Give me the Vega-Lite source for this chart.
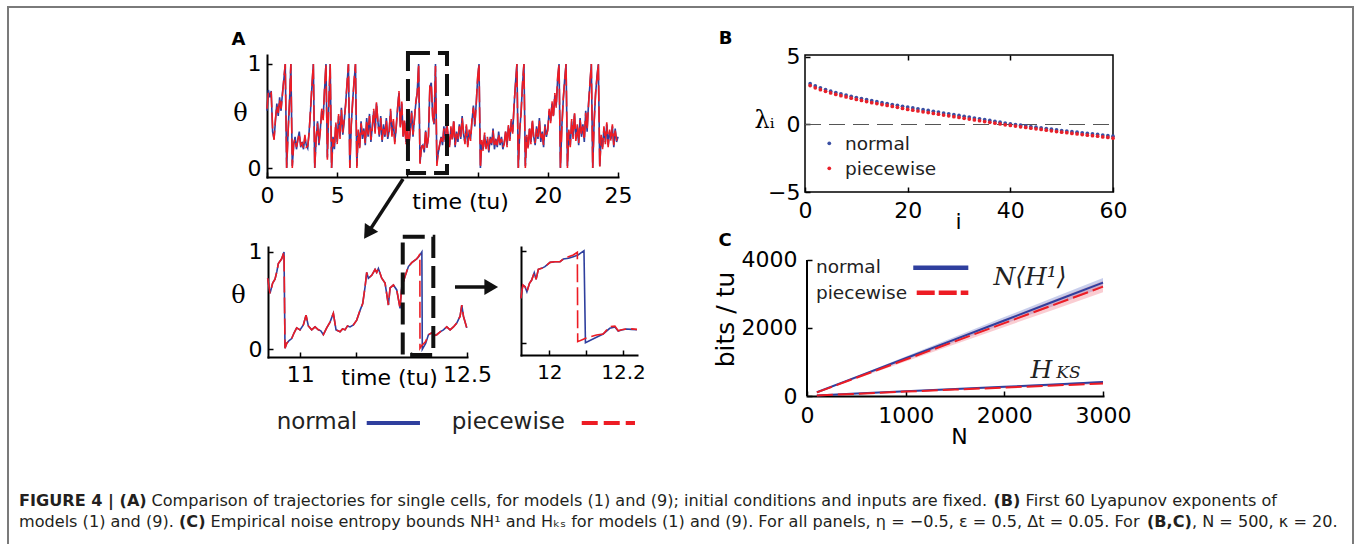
{
"$schema": "https://vega.github.io/schema/vega-lite/v6.json",
"background": "white",
"padding": {"left": 7, "top": 6, "right": 0, "bottom": 0},
"spacing": 0,
"bounds": "flush",
"datasets": {
"traj": [
{"t":0,"n":0.55,"p":0.57},{"t":0.1,"n":0.75,"p":0.73},{"t":0.2,"n":0.68,"p":0.70},{"t":0.3,"n":0.74,"p":0.72},{"t":0.4,"n":0.35,"p":0.38},{"t":0.5,"n":0.28,"p":0.27},{"t":0.6,"n":0.45,"p":0.47},{"t":0.7,"n":0.62,"p":0.60},{"t":0.8,"n":0.50,"p":0.53},{"t":0.9,"n":0.68,"p":0.66},
{"t":1.0,"n":0.55,"p":0.57},{"t":1.1,"n":0.72,"p":0.70},{"t":1.2,"n":0.85,"p":0.86},{"t":1.3,"n":1,"p":1},{"t":1.4,"n":0,"p":0},{"t":1.5,"n":0.35,"p":0.33},{"t":1.6,"n":0.62,"p":0.64},{"t":1.7,"n":1,"p":1},{"t":1.8,"n":0.02,"p":0},{"t":1.9,"n":0.22,"p":0.24},
{"t":2.0,"n":0.30,"p":0.28},{"t":2.1,"n":0.18,"p":0.20},{"t":2.2,"n":0.28,"p":0.27},{"t":2.3,"n":0.35,"p":0.33},{"t":2.4,"n":0.20,"p":0.22},{"t":2.5,"n":0.25,"p":0.24},{"t":2.6,"n":0.18,"p":0.19},{"t":2.7,"n":0.30,"p":0.32},{"t":2.8,"n":0.22,"p":0.20},{"t":2.9,"n":0.19,"p":0.21},
{"t":3.0,"n":0.35,"p":0.33},{"t":3.1,"n":0.55,"p":0.57},{"t":3.2,"n":0.78,"p":0.80},{"t":3.3,"n":1,"p":1},{"t":3.4,"n":0,"p":0},{"t":3.5,"n":0.28,"p":0.30},{"t":3.6,"n":0.45,"p":0.43},{"t":3.7,"n":0.22,"p":0.24},{"t":3.8,"n":0.38,"p":0.36},{"t":3.9,"n":0.55,"p":0.57},
{"t":4.0,"n":0.48,"p":0.46},{"t":4.1,"n":0.75,"p":0.77},{"t":4.2,"n":1,"p":1},{"t":4.3,"n":0.10,"p":0.08},{"t":4.4,"n":0.60,"p":0.62},{"t":4.5,"n":1,"p":1},{"t":4.6,"n":0,"p":0},{"t":4.7,"n":0.30,"p":0.28},{"t":4.8,"n":0.18,"p":0.20},{"t":4.9,"n":0.42,"p":0.44},
{"t":5.0,"n":0.25,"p":0.23},{"t":5.1,"n":0.50,"p":0.52},{"t":5.2,"n":0.30,"p":0.28},{"t":5.3,"n":0.58,"p":0.56},{"t":5.4,"n":0.32,"p":0.34},{"t":5.5,"n":0.45,"p":0.47},{"t":5.6,"n":0.62,"p":0.60},{"t":5.7,"n":0.80,"p":0.82},{"t":5.8,"n":1,"p":1},{"t":5.9,"n":0,"p":0},
{"t":6.0,"n":0.40,"p":0.42},{"t":6.1,"n":0.65,"p":0.63},{"t":6.2,"n":0.82,"p":0.84},{"t":6.3,"n":1,"p":1},{"t":6.4,"n":0.02,"p":0},{"t":6.5,"n":0.35,"p":0.37},{"t":6.6,"n":0.20,"p":0.19},{"t":6.7,"n":0.45,"p":0.43},{"t":6.8,"n":0.28,"p":0.30},{"t":6.9,"n":0.38,"p":0.36},
{"t":7.0,"n":0.22,"p":0.24},{"t":7.1,"n":0.48,"p":0.46},{"t":7.2,"n":0.30,"p":0.32},{"t":7.3,"n":0.52,"p":0.50},{"t":7.4,"n":0.25,"p":0.27},{"t":7.5,"n":0.40,"p":0.38},{"t":7.6,"n":0.55,"p":0.57},{"t":7.7,"n":0.35,"p":0.33},{"t":7.8,"n":0.62,"p":0.64},{"t":7.9,"n":0.45,"p":0.43},
{"t":8.0,"n":0.30,"p":0.32},{"t":8.1,"n":0.50,"p":0.48},{"t":8.2,"n":0.25,"p":0.27},{"t":8.3,"n":0.42,"p":0.40},{"t":8.4,"n":0.30,"p":0.32},{"t":8.5,"n":0.48,"p":0.46},{"t":8.6,"n":0.28,"p":0.30},{"t":8.7,"n":0.36,"p":0.34},{"t":8.8,"n":0.55,"p":0.57},{"t":8.9,"n":0.32,"p":0.30},
{"t":9.0,"n":0.45,"p":0.47},{"t":9.1,"n":0.25,"p":0.23},{"t":9.2,"n":0.38,"p":0.40},{"t":9.3,"n":0.58,"p":0.56},{"t":9.4,"n":0.72,"p":0.74},{"t":9.5,"n":0.40,"p":0.38},{"t":9.6,"n":0.62,"p":0.64},{"t":9.7,"n":0.30,"p":0.28},{"t":9.8,"n":0.45,"p":0.47},{"t":9.9,"n":0.25,"p":0.23},
{"t":10.0,"n":0.38,"p":0.40},{"t":10.1,"n":0.22,"p":0.20},{"t":10.2,"n":0.35,"p":0.37},{"t":10.3,"n":0.55,"p":0.53},{"t":10.4,"n":0.30,"p":0.32},{"t":10.5,"n":0.48,"p":0.46},{"t":10.6,"n":0.62,"p":0.64},{"t":10.7,"n":0.73,"p":0.72},{"t":10.8,"n":1,"p":1},{"t":10.9,"n":0.05,"p":0.04},
{"t":11.0,"n":0.20,"p":0.21},{"t":11.1,"n":0.22,"p":0.21},{"t":11.2,"n":0.15,"p":0.16},{"t":11.3,"n":0.36,"p":0.37},{"t":11.4,"n":0.20,"p":0.19},{"t":11.5,"n":0.30,"p":0.31},{"t":11.6,"n":0.78,"p":0.79},{"t":11.7,"n":0.82,"p":0.81},{"t":11.8,"n":0.50,"p":0.49},{"t":11.9,"n":0.42,"p":0.43},
{"t":12.0,"n":1,"p":0.98},{"t":12.1,"n":0.05,"p":0.02},{"t":12.2,"n":0.15,"p":0.16},{"t":12.3,"n":0.22,"p":0.23},{"t":12.4,"n":0.30,"p":0.29},{"t":12.5,"n":0.22,"p":0.23},{"t":12.6,"n":0.40,"p":0.38},{"t":12.7,"n":0.25,"p":0.27},{"t":12.8,"n":0.45,"p":0.43},{"t":12.9,"n":0.30,"p":0.32},
{"t":13.0,"n":0.22,"p":0.20},{"t":13.1,"n":0.38,"p":0.40},{"t":13.2,"n":0.28,"p":0.26},{"t":13.3,"n":0.45,"p":0.47},{"t":13.4,"n":0.20,"p":0.22},{"t":13.5,"n":0.35,"p":0.33},{"t":13.6,"n":0.25,"p":0.27},{"t":13.7,"n":0.42,"p":0.40},{"t":13.8,"n":0.28,"p":0.30},{"t":13.9,"n":0.50,"p":0.48},
{"t":14.0,"n":0.32,"p":0.34},{"t":14.1,"n":0.25,"p":0.23},{"t":14.2,"n":0.40,"p":0.42},{"t":14.3,"n":0.22,"p":0.20},{"t":14.4,"n":0.35,"p":0.37},{"t":14.5,"n":0.28,"p":0.26},{"t":14.6,"n":0.45,"p":0.47},{"t":14.7,"n":0.60,"p":0.58},{"t":14.8,"n":0.40,"p":0.42},{"t":14.9,"n":0.62,"p":0.60},
{"t":15.0,"n":0.85,"p":0.87},{"t":15.1,"n":1,"p":1},{"t":15.2,"n":0,"p":0},{"t":15.3,"n":0.25,"p":0.27},{"t":15.4,"n":0.18,"p":0.16},{"t":15.5,"n":0.32,"p":0.34},{"t":15.6,"n":0.20,"p":0.18},{"t":15.7,"n":0.28,"p":0.30},{"t":15.8,"n":0.15,"p":0.17},{"t":15.9,"n":0.30,"p":0.28},
{"t":16.0,"n":0.22,"p":0.24},{"t":16.1,"n":0.38,"p":0.36},{"t":16.2,"n":0.18,"p":0.20},{"t":16.3,"n":0.28,"p":0.26},{"t":16.4,"n":0.20,"p":0.22},{"t":16.5,"n":0.35,"p":0.33},{"t":16.6,"n":0.22,"p":0.24},{"t":16.7,"n":0.30,"p":0.28},{"t":16.8,"n":0.18,"p":0.20},{"t":16.9,"n":0.25,"p":0.23},
{"t":17.0,"n":0.35,"p":0.37},{"t":17.1,"n":0.22,"p":0.20},{"t":17.2,"n":0.40,"p":0.42},{"t":17.3,"n":0.28,"p":0.26},{"t":17.4,"n":0.45,"p":0.47},{"t":17.5,"n":0.35,"p":0.33},{"t":17.6,"n":0.60,"p":0.62},{"t":17.7,"n":0.82,"p":0.80},{"t":17.8,"n":1,"p":1},{"t":17.9,"n":0,"p":0},
{"t":18.0,"n":0.35,"p":0.37},{"t":18.1,"n":0.55,"p":0.53},{"t":18.2,"n":0.80,"p":0.82},{"t":18.3,"n":1,"p":1},{"t":18.4,"n":0.02,"p":0},{"t":18.5,"n":0.30,"p":0.32},{"t":18.6,"n":0.20,"p":0.18},{"t":18.7,"n":0.38,"p":0.40},{"t":18.8,"n":0.25,"p":0.23},{"t":18.9,"n":0.45,"p":0.47},
{"t":19.0,"n":0.30,"p":0.28},{"t":19.1,"n":0.22,"p":0.24},{"t":19.2,"n":0.40,"p":0.38},{"t":19.3,"n":0.28,"p":0.30},{"t":19.4,"n":0.48,"p":0.46},{"t":19.5,"n":0.25,"p":0.27},{"t":19.6,"n":0.35,"p":0.33},{"t":19.7,"n":0.20,"p":0.22},{"t":19.8,"n":0.42,"p":0.40},{"t":19.9,"n":0.30,"p":0.32},
{"t":20.0,"n":0.38,"p":0.36},{"t":20.1,"n":0.55,"p":0.57},{"t":20.2,"n":0.45,"p":0.43},{"t":20.3,"n":0.62,"p":0.64},{"t":20.4,"n":0.50,"p":0.48},{"t":20.5,"n":0.70,"p":0.72},{"t":20.6,"n":0.60,"p":0.58},{"t":20.7,"n":0.85,"p":0.87},{"t":20.8,"n":1,"p":1},{"t":20.9,"n":0,"p":0},
{"t":21.0,"n":0.40,"p":0.38},{"t":21.1,"n":0.65,"p":0.67},{"t":21.2,"n":0.85,"p":0.83},{"t":21.3,"n":1,"p":1},{"t":21.4,"n":0.02,"p":0},{"t":21.5,"n":0.35,"p":0.37},{"t":21.6,"n":0.22,"p":0.20},{"t":21.7,"n":0.45,"p":0.47},{"t":21.8,"n":0.30,"p":0.28},{"t":21.9,"n":0.52,"p":0.54},
{"t":22.0,"n":0.28,"p":0.26},{"t":22.1,"n":0.40,"p":0.42},{"t":22.2,"n":0.22,"p":0.24},{"t":22.3,"n":0.48,"p":0.46},{"t":22.4,"n":0.30,"p":0.32},{"t":22.5,"n":0.42,"p":0.40},{"t":22.6,"n":0.25,"p":0.27},{"t":22.7,"n":0.55,"p":0.53},{"t":22.8,"n":0.35,"p":0.37},{"t":22.9,"n":0.62,"p":0.60},
{"t":23.0,"n":0.80,"p":0.82},{"t":23.1,"n":1,"p":1},{"t":23.2,"n":0,"p":0},{"t":23.3,"n":0.45,"p":0.43},{"t":23.4,"n":0.70,"p":0.72},{"t":23.5,"n":0.88,"p":0.86},{"t":23.6,"n":1,"p":1},{"t":23.7,"n":0.02,"p":0},{"t":23.8,"n":0.30,"p":0.32},{"t":23.9,"n":0.20,"p":0.18},
{"t":24.0,"n":0.38,"p":0.40},{"t":24.1,"n":0.25,"p":0.23},{"t":24.2,"n":0.42,"p":0.44},{"t":24.3,"n":0.22,"p":0.20},{"t":24.4,"n":0.35,"p":0.37},{"t":24.5,"n":0.28,"p":0.26},{"t":24.6,"n":0.40,"p":0.42},{"t":24.7,"n":0.20,"p":0.22},{"t":24.8,"n":0.38,"p":0.36},{"t":24.9,"n":0.25,"p":0.27},
{"t":25.0,"n":0.30,"p":0.28}
],
"zl": [
{"t":10.707,"n":0.73,"p":0.73},{"t":10.728,"n":0.575,"p":0.575},{"t":10.752,"n":0.68,"p":0.68},{"t":10.773,"n":0.72,"p":0.72},{"t":10.79,"n":0.8,"p":0.8},{"t":10.803,"n":0.88,"p":0.88},{"t":10.833,"n":0.93,"p":0.93},{"t":10.854,"n":1,"p":1},{"t":10.863,"n":0.01,"p":0.01},{"t":10.878,"n":0.06,"p":0.06},
{"t":10.9,"n":0.09,"p":0.09},{"t":10.923,"n":0.11,"p":0.11},{"t":10.945,"n":0.17,"p":0.17},{"t":10.968,"n":0.22,"p":0.22},{"t":10.998,"n":0.2,"p":0.2},{"t":11.028,"n":0.25,"p":0.25},{"t":11.052,"n":0.35,"p":0.35},{"t":11.073,"n":0.24,"p":0.24},{"t":11.103,"n":0.2,"p":0.2},{"t":11.133,"n":0.23,"p":0.23},
{"t":11.163,"n":0.2,"p":0.2},{"t":11.185,"n":0.19,"p":0.19},{"t":11.208,"n":0.15,"p":0.15},{"t":11.238,"n":0.22,"p":0.22},{"t":11.268,"n":0.28,"p":0.28},{"t":11.298,"n":0.37,"p":0.37},{"t":11.322,"n":0.2,"p":0.2},{"t":11.358,"n":0.18,"p":0.18},{"t":11.38,"n":0.21,"p":0.21},{"t":11.403,"n":0.2,"p":0.2},
{"t":11.425,"n":0.24,"p":0.24},{"t":11.448,"n":0.23,"p":0.23},{"t":11.478,"n":0.25,"p":0.25},{"t":11.508,"n":0.3,"p":0.3},{"t":11.538,"n":0.4,"p":0.4},{"t":11.562,"n":0.47,"p":0.47},{"t":11.583,"n":0.64,"p":0.64},{"t":11.598,"n":0.79,"p":0.79},{"t":11.613,"n":0.73,"p":0.73},{"t":11.643,"n":0.76,"p":0.76},
{"t":11.673,"n":0.82,"p":0.82},{"t":11.688,"n":0.79,"p":0.79},{"t":11.703,"n":0.83,"p":0.83},{"t":11.733,"n":0.73,"p":0.73},{"t":11.763,"n":0.68,"p":0.68},{"t":11.793,"n":0.455,"p":0.455},{"t":11.808,"n":0.63,"p":0.63},{"t":11.838,"n":0.66,"p":0.66},{"t":11.868,"n":0.61,"p":0.61},{"t":11.898,"n":0.42,"p":0.42},
{"t":11.913,"n":0.64,"p":0.64},{"t":11.943,"n":0.75,"p":0.75},{"t":11.973,"n":0.85,"p":0.85},{"t":12.003,"n":0.89,"p":0.89},{"t":12.048,"n":0.93,"p":0.93},{"t":12.065,"n":0.95,"p":0.955},{"t":12.076,"n":0.97,"p":0.98},{"t":12.077,"n":0.97,"p":0.01},{"t":12.094,"n":1,"p":0.04},{"t":12.098,"n":0,"p":0.045},
{"t":12.128,"n":0.06,"p":0.08},{"t":12.153,"n":0.15,"p":0.15},{"t":12.183,"n":0.17,"p":0.17},{"t":12.2,"n":0.14,"p":0.14},{"t":12.228,"n":0.15,"p":0.15},{"t":12.258,"n":0.18,"p":0.18},{"t":12.288,"n":0.2,"p":0.2},{"t":12.318,"n":0.23,"p":0.23},{"t":12.348,"n":0.2,"p":0.2},{"t":12.378,"n":0.23,"p":0.23},
{"t":12.408,"n":0.27,"p":0.27},{"t":12.438,"n":0.34,"p":0.34},{"t":12.453,"n":0.455,"p":0.455},{"t":12.468,"n":0.34,"p":0.34},{"t":12.498,"n":0.22,"p":0.22}
],
"zr": [
{"t":11.9226,"n":0.482,"p":0.482},{"t":11.928,"n":0.627,"p":0.627},{"t":11.934,"n":0.609,"p":0.609},{"t":11.939,"n":0.554,"p":0.554},{"t":11.946,"n":0.645,"p":0.645},{"t":11.952,"n":0.681,"p":0.681},{"t":11.959,"n":0.761,"p":0.761},{"t":11.964,"n":0.688,"p":0.688},{"t":11.97,"n":0.797,"p":0.797},{"t":11.979,"n":0.808,"p":0.808},
{"t":11.988,"n":0.826,"p":0.826},{"t":12.002,"n":0.873,"p":0.873},{"t":12.015,"n":0.88,"p":0.88},{"t":12.029,"n":0.88,"p":0.88},{"t":12.038,"n":0.909,"p":0.909},{"t":12.052,"n":0.917,"p":0.935},{"t":12.065,"n":0.935,"p":0.953},{"t":12.076,"n":0.95,"p":0.982},{"t":12.077,"n":0.951,"p":0.011},{"t":12.094,"n":1,"p":0.04},
{"t":12.098,"n":0,"p":0.047},{"t":12.128,"n":0.058,"p":0.083},{"t":12.146,"n":0.094,"p":0.094},{"t":12.164,"n":0.156,"p":0.174},{"t":12.178,"n":0.17,"p":0.18},{"t":12.187,"n":0.127,"p":0.13},{"t":12.196,"n":0.138,"p":0.14},{"t":12.209,"n":0.149,"p":0.149},{"t":12.223,"n":0.145,"p":0.15},{"t":12.238,"n":0.14,"p":0.145}
],
"lyap": [
{"i":1,"n":3.02,"p":2.88},{"i":2,"n":2.86,"p":2.72},{"i":3,"n":2.72,"p":2.58},{"i":4,"n":2.59,"p":2.46},{"i":5,"n":2.47,"p":2.34},{"i":6,"n":2.37,"p":2.23},{"i":7,"n":2.27,"p":2.13},{"i":8,"n":2.18,"p":2.04},{"i":9,"n":2.09,"p":1.95},{"i":10,"n":2.0,"p":1.86},
{"i":11,"n":1.92,"p":1.78},{"i":12,"n":1.84,"p":1.70},{"i":13,"n":1.76,"p":1.62},{"i":14,"n":1.69,"p":1.55},{"i":15,"n":1.62,"p":1.48},{"i":16,"n":1.55,"p":1.41},{"i":17,"n":1.48,"p":1.34},{"i":18,"n":1.42,"p":1.27},{"i":19,"n":1.35,"p":1.19},{"i":20,"n":1.29,"p":1.12},
{"i":21,"n":1.23,"p":1.06},{"i":22,"n":1.16,"p":1.0},{"i":23,"n":1.10,"p":0.94},{"i":24,"n":1.04,"p":0.88},{"i":25,"n":0.98,"p":0.82},{"i":26,"n":0.92,"p":0.76},{"i":27,"n":0.85,"p":0.70},{"i":28,"n":0.79,"p":0.64},{"i":29,"n":0.73,"p":0.58},{"i":30,"n":0.67,"p":0.52},
{"i":31,"n":0.61,"p":0.46},{"i":32,"n":0.55,"p":0.40},{"i":33,"n":0.48,"p":0.34},{"i":34,"n":0.42,"p":0.28},{"i":35,"n":0.36,"p":0.22},{"i":36,"n":0.30,"p":0.16},{"i":37,"n":0.24,"p":0.10},{"i":38,"n":0.17,"p":0.04},{"i":39,"n":0.11,"p":-0.02},{"i":40,"n":0.05,"p":-0.07},
{"i":41,"n":0.0,"p":-0.12},{"i":42,"n":-0.05,"p":-0.17},{"i":43,"n":-0.10,"p":-0.22},{"i":44,"n":-0.15,"p":-0.27},{"i":45,"n":-0.20,"p":-0.32},{"i":46,"n":-0.25,"p":-0.37},{"i":47,"n":-0.30,"p":-0.42},{"i":48,"n":-0.35,"p":-0.47},{"i":49,"n":-0.40,"p":-0.52},{"i":50,"n":-0.45,"p":-0.57},
{"i":51,"n":-0.49,"p":-0.61},{"i":52,"n":-0.53,"p":-0.66},{"i":53,"n":-0.57,"p":-0.70},{"i":54,"n":-0.62,"p":-0.75},{"i":55,"n":-0.66,"p":-0.79},{"i":56,"n":-0.70,"p":-0.83},{"i":57,"n":-0.74,"p":-0.87},{"i":58,"n":-0.78,"p":-0.92},{"i":59,"n":-0.83,"p":-0.96},{"i":60,"n":-0.87,"p":-1.01}
],
"ent": [
{"N":100,"q":"NH1","s":"n","v":111,"lo":104,"hi":118},{"N":500,"q":"NH1","s":"n","v":556,"lo":530,"hi":582},{"N":1000,"q":"NH1","s":"n","v":1111,"lo":1060,"hi":1160},{"N":1500,"q":"NH1","s":"n","v":1667,"lo":1590,"hi":1740},{"N":2000,"q":"NH1","s":"n","v":2222,"lo":2120,"hi":2320},{"N":2500,"q":"NH1","s":"n","v":2778,"lo":2650,"hi":2900},{"N":3000,"q":"NH1","s":"n","v":3333,"lo":3190,"hi":3470},
{"N":100,"q":"NH1","s":"p","v":107,"lo":100,"hi":114},{"N":500,"q":"NH1","s":"p","v":536,"lo":505,"hi":565},{"N":1000,"q":"NH1","s":"p","v":1072,"lo":1015,"hi":1130},{"N":1500,"q":"NH1","s":"p","v":1608,"lo":1520,"hi":1695},{"N":2000,"q":"NH1","s":"p","v":2144,"lo":2030,"hi":2260},{"N":2500,"q":"NH1","s":"p","v":2680,"lo":2540,"hi":2820},{"N":3000,"q":"NH1","s":"p","v":3215,"lo":3050,"hi":3380},
{"N":100,"q":"HKS","s":"n","v":15,"lo":10,"hi":20},{"N":500,"q":"HKS","s":"n","v":70,"lo":62,"hi":78},{"N":1000,"q":"HKS","s":"n","v":140,"lo":128,"hi":152},{"N":1500,"q":"HKS","s":"n","v":205,"lo":190,"hi":220},{"N":2000,"q":"HKS","s":"n","v":270,"lo":252,"hi":288},{"N":2500,"q":"HKS","s":"n","v":340,"lo":318,"hi":362},{"N":3000,"q":"HKS","s":"n","v":413,"lo":388,"hi":438},
{"N":100,"q":"HKS","s":"p","v":14,"lo":9,"hi":19},{"N":500,"q":"HKS","s":"p","v":65,"lo":57,"hi":73},{"N":1000,"q":"HKS","s":"p","v":130,"lo":118,"hi":142},{"N":1500,"q":"HKS","s":"p","v":188,"lo":173,"hi":203},{"N":2000,"q":"HKS","s":"p","v":248,"lo":230,"hi":266},{"N":2500,"q":"HKS","s":"p","v":308,"lo":286,"hi":330},{"N":3000,"q":"HKS","s":"p","v":368,"lo":343,"hi":393}
],
"cap": [
{"line":1,"seg":"1a","txt":"FIGURE 4 | (A)"},
{"line":1,"seg":"1b","txt":"Comparison of trajectories for single cells, for models (1) and (9); initial conditions and inputs are fixed."},
{"line":1,"seg":"1c","txt":"(B)"},
{"line":1,"seg":"1d","txt":"First 60 Lyapunov exponents of"},
{"line":2,"seg":"2a","txt":"models (1) and (9)."},
{"line":2,"seg":"2b","txt":"(C)"},
{"line":2,"seg":"2c","txt":"Empirical noise entropy bounds NH¹ and Hₖₛ for models (1) and (9). For all panels, η = −0.5, ε = 0.5, Δt = 0.05. For"},
{"line":2,"seg":"2d","txt":"(B,C)"},
{"line":2,"seg":"2e","txt":", N = 500, κ = 20."}
]
},
"vconcat": [
{"spacing":0,"bounds":"flush","hconcat":[
{"width":0.01,"height":540,"view":{"stroke":"#7a7a7a","strokeWidth":2},"data":{"values":[]},"mark":"point","encoding":{}},
{"width":1344,"height":0.01,"view":{"stroke":"#7a7a7a","strokeWidth":2},"data":{"values":[]},"mark":"point","encoding":{}},
{"width":0.01,"height":540,"view":{"stroke":"#7a7a7a","strokeWidth":2},"data":{"values":[]},"mark":"point","encoding":{}}
]},
{"width":0.01,"height":48,"data":{"values":[]},"mark":"point","encoding":{}},
{"spacing":0,"bounds":"flush","hconcat":[
{"width":259,"height":0.01,"data":{"values":[]},"mark":"point","encoding":{}},
{
"width":351,"height":122,
"data":{"name":"traj"},
"layer":[
{"mark":{"type":"line","color":"#2f3f9e","strokeWidth":1.6},
 "encoding":{
  "x":{"field":"t","type":"quantitative","scale":{"domain":[0,25],"nice":false},
       "axis":{"values":[0,5,10,15,20,25],"format":"d","labelExpr":"datum.value == 10 || datum.value == 15 ? '' : datum.label","title":"time (tu)","titleX":193,"titleY":31,"titleAlign":"center","titleBaseline":"alphabetic","labelPadding":13}},
  "y":{"field":"n","type":"quantitative","scale":{"domain":[-0.0865,1.0865],"nice":false},
       "axis":{"values":[0,1],"format":"d","title":"θ","titleFont":"DejaVu Serif","titleFontSize":24,"titleAngle":0,"titleX":-27,"titleY":58,"titleAlign":"center","titleBaseline":"middle","labelPadding":11}}}},
{"mark":{"type":"line","color":"#ed1c24","strokeWidth":1.6,"strokeDash":[16,5]},
 "encoding":{"x":{"field":"t","type":"quantitative","scale":{"domain":[0,25],"nice":false}},"y":{"field":"p","type":"quantitative","scale":{"domain":[-0.0865,1.0865],"nice":false}}}},
{"data":{"values":[{}]},"mark":{"type":"rect","filled":false,"color":"#111","strokeWidth":4,"strokeDash":[22,8],"clip":false},
 "encoding":{"x":{"datum":10.04,"scale":{"domain":[0,25],"nice":false}},"x2":{"datum":12.82},"y":{"datum":1.106,"scale":{"domain":[-0.0865,1.0865],"nice":false}},"y2":{"datum":-0.048}}},
{"data":{"values":[{}]},"mark":{"type":"rule","color":"#111","strokeWidth":3.5,"clip":false},
 "encoding":{"x":{"datum":9.69,"scale":{"domain":[0,25],"nice":false}},"x2":{"datum":7.18},"y":{"datum":-0.106,"scale":{"domain":[-0.0865,1.0865],"nice":false}},"y2":{"datum":-0.626}}},
{"data":{"values":[{}]},"mark":{"type":"point","shape":"triangle-up","size":250,"angle":212.8,"filled":true,"color":"#111","opacity":1,"clip":false},
 "encoding":{"x":{"datum":7.18,"scale":{"domain":[0,25],"nice":false}},"y":{"datum":-0.626,"scale":{"domain":[-0.0865,1.0865],"nice":false}}}},
{"data":{"values":[{}]},"mark":{"type":"text","text":"A","fontWeight":"bold","fontSize":18,"align":"center","baseline":"alphabetic","clip":false},
 "encoding":{"x":{"datum":-2.04,"scale":{"domain":[0,25],"nice":false}},"y":{"datum":1.1827,"scale":{"domain":[-0.0865,1.0865],"nice":false}}}}
]
},
{"width":187,"height":0.01,"data":{"values":[]},"mark":"point","encoding":{}},
{
"width":308,"height":137,
"view":{"stroke":"black","strokeWidth":1.5},
"resolve":{"axis":{"x":"independent","y":"independent"}},
"layer":[
{"data":{"values":[{}]},"mark":{"type":"rule","color":"#555","strokeWidth":1.2,"strokeDash":[16,8]},
 "encoding":{"x":{"datum":0,"scale":{"domain":[0,60],"nice":false},"axis":{"orient":"top","values":[20,40],"labels":false,"title":null,"domain":false}},"x2":{"datum":60},"y":{"datum":0,"scale":{"domain":[-5,5.148],"nice":false},"axis":null}}},
{"data":{"name":"lyap"},"transform":[{"fold":["n","p"],"as":["s","v"]}],
 "mark":{"type":"point","filled":true,"size":14,"opacity":1},
 "encoding":{
  "x":{"field":"i","type":"quantitative","scale":{"domain":[0,60],"nice":false},"axis":{"values":[0,20,40,60],"format":"d","title":"i","titleX":153,"titleY":36,"titleAlign":"center","titleBaseline":"alphabetic","domain":false,"labelPadding":13}},
  "y":{"field":"v","type":"quantitative","scale":{"domain":[-5,5.148],"nice":false},"axis":{"values":[-5,0,5],"format":"d","title":"λᵢ","titleFont":"DejaVu Serif","titleFontSize":24,"titleAngle":0,"titleX":-41,"titleY":65,"titleAlign":"center","titleBaseline":"middle","domain":false,"labelPadding":10}},
  "color":{"field":"s","type":"nominal","scale":{"domain":["n","p"],"range":["#3a4fa3","#e8202a"]},"legend":null}}},
{"data":{"values":[{}]},"mark":{"type":"point","filled":true,"size":14,"opacity":1,"color":"#3a4fa3"},
 "encoding":{"x":{"datum":4.73,"scale":{"domain":[0,60],"nice":false},"axis":null},"y":{"datum":-1.393,"scale":{"domain":[-5,5.148],"nice":false},"axis":null}}},
{"data":{"values":[{}]},"mark":{"type":"point","filled":true,"size":14,"opacity":1,"color":"#e8202a"},
 "encoding":{"x":{"datum":4.73,"scale":{"domain":[0,60],"nice":false},"axis":null},"y":{"datum":-3.245,"scale":{"domain":[-5,5.148],"nice":false},"axis":null}}},
{"data":{"values":[{}]},"mark":{"type":"text","text":"normal","fontSize":18.5,"align":"left","baseline":"middle","color":"#222"},
 "encoding":{"x":{"datum":7.8,"scale":{"domain":[0,60],"nice":false},"axis":null},"y":{"datum":-1.45,"scale":{"domain":[-5,5.148],"nice":false},"axis":null}}},
{"data":{"values":[{}]},"mark":{"type":"text","text":"piecewise","fontSize":18.5,"align":"left","baseline":"middle","color":"#222"},
 "encoding":{"x":{"datum":7.8,"scale":{"domain":[0,60],"nice":false},"axis":null},"y":{"datum":-3.3,"scale":{"domain":[-5,5.148],"nice":false},"axis":null}}},
{"data":{"values":[{}]},"mark":{"type":"text","text":"B","fontWeight":"bold","fontSize":18,"align":"center","baseline":"alphabetic","clip":false},
 "encoding":{"x":{"datum":-15.49,"scale":{"domain":[0,60],"nice":false},"axis":null},"y":{"datum":5.963,"scale":{"domain":[-5,5.148],"nice":false},"axis":null}}}
]
}
]},
{"width":0.01,"height":192,"data":{"values":[]},"mark":"point","encoding":{}},
{"spacing":0,"bounds":"flush","hconcat":[
{"width":260,"height":0.01,"data":{"values":[]},"mark":"point","encoding":{}},
{
"width":199,"height":110,
"data":{"name":"zl"},
"layer":[
{"mark":{"type":"line","color":"#2f3f9e","strokeWidth":1.6},
 "encoding":{
  "x":{"field":"t","type":"quantitative","scale":{"domain":[10.71,12.5],"nice":false},
       "axis":{"values":[11,11.5,12,12.5],"format":"~g","labelExpr":"datum.value == 11.5 || datum.value == 12 ? '' : datum.label","title":"time (tu)","titleX":121,"titleY":27,"titleAlign":"center","titleBaseline":"alphabetic","labelPadding":12}},
  "y":{"field":"n","type":"quantitative","scale":{"domain":[-0.079,1.051],"nice":false},
       "axis":{"values":[0,1],"format":"d","title":"θ","titleFont":"DejaVu Serif","titleFontSize":24,"titleAngle":0,"titleX":-30,"titleY":48,"titleAlign":"center","titleBaseline":"middle","labelPadding":11}}}},
{"mark":{"type":"line","color":"#ed1c24","strokeWidth":1.6,"strokeDash":[16,5]},
 "encoding":{"x":{"field":"t","type":"quantitative","scale":{"domain":[10.71,12.5],"nice":false}},"y":{"field":"p","type":"quantitative","scale":{"domain":[-0.079,1.051],"nice":false}}}},
{"data":{"values":[{}]},"mark":{"type":"rect","filled":false,"color":"#111","strokeWidth":4,"strokeDash":[22,8],"clip":false},
 "encoding":{"x":{"datum":11.922,"scale":{"domain":[10.71,12.5],"nice":false}},"x2":{"datum":12.197},"y":{"datum":1.157,"scale":{"domain":[-0.079,1.051],"nice":false}},"y2":{"datum":-0.058}}},
{"data":{"values":[{}]},"mark":{"type":"rule","color":"#111","strokeWidth":3.5,"clip":false},
 "encoding":{"x":{"datum":12.392,"scale":{"domain":[10.71,12.5],"nice":false}},"x2":{"datum":12.718},"y":{"datum":0.64,"scale":{"domain":[-0.079,1.051],"nice":false}},"y2":{"datum":0.64}}},
{"data":{"values":[{}]},"mark":{"type":"point","shape":"triangle-up","size":250,"angle":90,"filled":true,"color":"#111","opacity":1,"clip":false},
 "encoding":{"x":{"datum":12.718,"scale":{"domain":[10.71,12.5],"nice":false}},"y":{"datum":0.64,"scale":{"domain":[-0.079,1.051],"nice":false}}}},
{"data":{"values":[{}]},"mark":{"type":"text","text":"normal","fontSize":23,"align":"left","baseline":"middle","color":"#222","clip":false},
 "encoding":{"x":{"datum":10.788,"scale":{"domain":[10.71,12.5],"nice":false}},"y":{"datum":-0.744,"scale":{"domain":[-0.079,1.051],"nice":false}}}},
{"data":{"values":[{}]},"mark":{"type":"rule","color":"#2f3f9e","strokeWidth":4,"clip":false},
 "encoding":{"x":{"datum":11.598,"scale":{"domain":[10.71,12.5],"nice":false}},"x2":{"datum":12.077},"y":{"datum":-0.757,"scale":{"domain":[-0.079,1.051],"nice":false}}}},
{"data":{"values":[{}]},"mark":{"type":"text","text":"piecewise","fontSize":23,"align":"left","baseline":"middle","color":"#222","clip":false},
 "encoding":{"x":{"datum":12.362,"scale":{"domain":[10.71,12.5],"nice":false}},"y":{"datum":-0.744,"scale":{"domain":[-0.079,1.051],"nice":false}}}},
{"data":{"values":[{}]},"mark":{"type":"rule","color":"#ed1c24","strokeWidth":4,"strokeDash":[16,6],"clip":false},
 "encoding":{"x":{"datum":13.532,"scale":{"domain":[10.71,12.5],"nice":false}},"x2":{"datum":14.011},"y":{"datum":-0.757,"scale":{"domain":[-0.079,1.051],"nice":false}}}}
]
},
{"width":54,"height":0.01,"data":{"values":[]},"mark":"point","encoding":{}},
{
"width":116,"height":108,
"data":{"name":"zr"},
"layer":[
{"mark":{"type":"line","color":"#2f3f9e","strokeWidth":1.6},
 "encoding":{
  "x":{"field":"t","type":"quantitative","scale":{"domain":[11.923,12.238],"nice":false},
       "axis":{"values":[12,12.1,12.2],"format":"~g","labelExpr":"datum.value == 12.1 ? '' : datum.label","title":null,"labelPadding":12,"labelFontSize":20}},
  "y":{"field":"n","type":"quantitative","scale":{"domain":[-0.134,1.04],"nice":false},
       "axis":{"values":[0,1],"labels":false,"title":null}}}},
{"mark":{"type":"line","color":"#ed1c24","strokeWidth":1.6,"strokeDash":[18,5]},
 "encoding":{"x":{"field":"t","type":"quantitative","scale":{"domain":[11.923,12.238],"nice":false}},"y":{"field":"p","type":"quantitative","scale":{"domain":[-0.134,1.04],"nice":false}}}}
]
},
{"width":170,"height":0.01,"data":{"values":[]},"mark":"point","encoding":{}},
{
"width":296,"height":149,
"data":{"name":"ent"},
"layer":[
{"transform":[{"filter":"datum.s == 'n'"}],"mark":{"type":"area","color":"#4a5cc0","opacity":0.3},
 "encoding":{
  "x":{"field":"N","type":"quantitative","scale":{"domain":[0,3000],"nice":false},
       "axis":{"values":[0,1000,2000,3000],"format":"d","title":"N","titleX":152,"titleY":47,"titleAlign":"center","titleBaseline":"alphabetic","labelPadding":14}},
  "y":{"field":"lo","type":"quantitative","scale":{"domain":[0,4382],"nice":false},
       "axis":{"values":[0,2000,4000],"format":"d","title":"bits / tu","titleFontSize":25,"titleAngle":-90,"titleX":-82,"titleY":72,"titleAlign":"center","titleBaseline":"middle","domain":false,"labelPadding":15}},
  "y2":{"field":"hi"},
  "detail":{"field":"q"}}},
{"transform":[{"filter":"datum.s == 'p'"}],"mark":{"type":"area","color":"#f05a6a","opacity":0.3},
 "encoding":{"x":{"field":"N","type":"quantitative","scale":{"domain":[0,3000],"nice":false}},"y":{"field":"lo","type":"quantitative","scale":{"domain":[0,4382],"nice":false}},"y2":{"field":"hi"},"detail":{"field":"q"}}},
{"transform":[{"filter":"datum.s == 'n'"}],"mark":{"type":"line","color":"#2f3f9e","strokeWidth":2},
 "encoding":{"x":{"field":"N","type":"quantitative","scale":{"domain":[0,3000],"nice":false}},"y":{"field":"v","type":"quantitative","scale":{"domain":[0,4382],"nice":false}},"detail":{"field":"q"}}},
{"transform":[{"filter":"datum.s == 'p'"}],"mark":{"type":"line","color":"#ed1c24","strokeWidth":2,"strokeDash":[16,5]},
 "encoding":{"x":{"field":"N","type":"quantitative","scale":{"domain":[0,3000],"nice":false}},"y":{"field":"v","type":"quantitative","scale":{"domain":[0,4382],"nice":false}},"detail":{"field":"q"}}},
{"data":{"values":[{}]},"mark":{"type":"rule","color":"black","strokeWidth":2},
 "encoding":{"x":{"datum":0,"scale":{"domain":[0,3000],"nice":false}},"y":{"datum":0,"scale":{"domain":[0,4382],"nice":false}},"y2":{"datum":4000}}},
{"data":{"values":[{}]},"mark":{"type":"text","text":"normal","fontSize":18.5,"align":"left","baseline":"middle","color":"#222"},
 "encoding":{"x":{"datum":91,"scale":{"domain":[0,3000],"nice":false}},"y":{"datum":3785,"scale":{"domain":[0,4382],"nice":false}}}},
{"data":{"values":[{}]},"mark":{"type":"rule","color":"#2f3f9e","strokeWidth":4.5},
 "encoding":{"x":{"datum":1077,"scale":{"domain":[0,3000],"nice":false}},"x2":{"datum":1635},"y":{"datum":3773,"scale":{"domain":[0,4382],"nice":false}}}},
{"data":{"values":[{}]},"mark":{"type":"text","text":"piecewise","fontSize":18.5,"align":"left","baseline":"middle","color":"#222"},
 "encoding":{"x":{"datum":91,"scale":{"domain":[0,3000],"nice":false}},"y":{"datum":3020,"scale":{"domain":[0,4382],"nice":false}}}},
{"data":{"values":[{}]},"mark":{"type":"rule","color":"#ed1c24","strokeWidth":4.5,"strokeDash":[18,4]},
 "encoding":{"x":{"datum":1112,"scale":{"domain":[0,3000],"nice":false}},"x2":{"datum":1635},"y":{"datum":3038,"scale":{"domain":[0,4382],"nice":false}}}},
{"data":{"values":[{}]},"mark":{"type":"text","text":"N⟨H¹⟩","font":"DejaVu Serif","fontStyle":"italic","fontSize":25,"align":"center","baseline":"middle","color":"#222"},
 "encoding":{"x":{"datum":2260,"scale":{"domain":[0,3000],"nice":false}},"y":{"datum":3500,"scale":{"domain":[0,4382],"nice":false}}}},
{"data":{"values":[{}]},"mark":{"type":"text","text":"H","font":"DejaVu Serif","fontStyle":"italic","fontSize":25,"align":"center","baseline":"middle","color":"#222"},
 "encoding":{"x":{"datum":2376,"scale":{"domain":[0,3000],"nice":false}},"y":{"datum":764,"scale":{"domain":[0,4382],"nice":false}}}},
{"data":{"values":[{}]},"mark":{"type":"text","text":"KS","font":"DejaVu Serif","fontStyle":"italic","fontSize":17,"align":"center","baseline":"middle","color":"#222"},
 "encoding":{"x":{"datum":2650,"scale":{"domain":[0,3000],"nice":false}},"y":{"datum":676,"scale":{"domain":[0,4382],"nice":false}}}},
{"data":{"values":[{}]},"mark":{"type":"text","text":"C","fontWeight":"bold","fontSize":18,"align":"center","baseline":"alphabetic","clip":false},
 "encoding":{"x":{"datum":-831,"scale":{"domain":[0,3000],"nice":false}},"y":{"datum":4411,"scale":{"domain":[0,4382],"nice":false}}}}
]
}
]},
{"width":0.01,"height":243,"data":{"values":[]},"mark":"point","encoding":{}},
{"spacing":0,"bounds":"flush","hconcat":[
{"width":11,"height":0.01,"data":{"values":[]},"mark":"point","encoding":{}},
{
"width":1333,"height":42,
"data":{"name":"cap"},
"encoding":{
 "x":{"datum":0,"type":"quantitative","scale":{"domain":[0,1]},"axis":null},
 "y":{"field":"line","type":"ordinal","scale":{"domain":[1,2],"padding":0.5},"axis":null},
 "text":{"field":"txt"}
},
"layer":[
{"transform":[{"filter":"datum.seg == '1a'"}],"mark":{"type":"text","align":"left","baseline":"middle","fontSize":16.1,"fontWeight":"bold","color":"#231f20"}},
{"transform":[{"filter":"datum.seg == '1b'"}],"mark":{"type":"text","align":"left","baseline":"middle","fontSize":16.1,"color":"#231f20","dx":132.5}},
{"transform":[{"filter":"datum.seg == '1c'"}],"mark":{"type":"text","align":"left","baseline":"middle","fontSize":16.1,"fontWeight":"bold","color":"#231f20","dx":974.5}},
{"transform":[{"filter":"datum.seg == '1d'"}],"mark":{"type":"text","align":"left","baseline":"middle","fontSize":16.1,"color":"#231f20","dx":1006.6}},
{"transform":[{"filter":"datum.seg == '2a'"}],"mark":{"type":"text","align":"left","baseline":"middle","fontSize":16.1,"color":"#231f20"}},
{"transform":[{"filter":"datum.seg == '2b'"}],"mark":{"type":"text","align":"left","baseline":"middle","fontSize":16.1,"fontWeight":"bold","color":"#231f20","dx":160.0}},
{"transform":[{"filter":"datum.seg == '2c'"}],"mark":{"type":"text","align":"left","baseline":"middle","fontSize":16.1,"color":"#231f20","dx":191.6}},
{"transform":[{"filter":"datum.seg == '2d'"}],"mark":{"type":"text","align":"left","baseline":"middle","fontSize":16.1,"fontWeight":"bold","color":"#231f20","dx":1128.0}},
{"transform":[{"filter":"datum.seg == '2e'"}],"mark":{"type":"text","align":"left","baseline":"middle","fontSize":16.1,"color":"#231f20","dx":1172.9}}
]
}
]}
],
"config":{
 "view":{"stroke":null},
 "font":"DejaVu Sans",
 "axis":{"domainColor":"black","domainWidth":2,"domainCap":"square","tickColor":"black","tickWidth":1.5,"tickSize":-5,"labelColor":"black","labelFont":"DejaVu Sans","labelFontSize":22,"titleColor":"black","titleFont":"DejaVu Sans","titleFontSize":22,"titleFontWeight":"normal","grid":false,"labelFlush":false,"labelOverlap":false,"labelBound":false},
 "text":{"color":"black","font":"DejaVu Sans"}
}
}
